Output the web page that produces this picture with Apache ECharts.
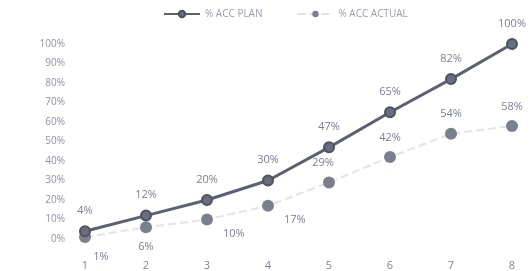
<!DOCTYPE html>
<html>
<head>
<meta charset="utf-8">
<script src="https://cdn.jsdelivr.net/npm/echarts@6/dist/echarts.min.js"></script>
<style>
  html, body { margin: 0; padding: 0; background: #fff; }
  #chart { width: 529px; height: 271px; }
</style>
</head>
<body>
<div id="chart"></div>
<script>
let categories = ["1", "2", "3", "4", "5", "6", "7", "8"];
let accPlan = [4, 12, 20, 30, 47, 65, 82, 100];
let accActual = [1, 6, 10, 17, 29, 42, 54, 58];
// where each actual label sits relative to its point
let actualLabelPos = ["bottom", "bottom", "right", "right", "top", "top", "top", "top"];

let chart = echarts.init(document.getElementById("chart"));

let actualData = accActual.map((v, i) => {
    let pos = actualLabelPos[i];
    let label = { position: pos };
    if (pos === "right") label.offset = [2, 14];
    if (pos === "bottom" && i === 0) label.offset = [16, 0];
    if (i === 4) label.offset = [-6, 0];
    return { value: v, label: label };
});

chart.setOption({
    animation: false,
    textStyle: { fontFamily: "Open Sans" },
    legend: {
        top: 4,
        left: 158,
        itemGap: 34,
        itemWidth: 36,
        itemHeight: 8,
        textStyle: { color: "#9a9cac", fontSize: 10 },
        data: ["% ACC PLAN", "% ACC ACTUAL"]
    },
    grid: { left: 85, right: 17, top: 44, bottom: 32 },
    xAxis: {
        type: "category",
        data: categories,
        boundaryGap: false,
        axisLine: { show: false },
        axisTick: { show: false },
        axisLabel: { color: "#7e8298", fontSize: 11, margin: 21 }
    },
    yAxis: {
        type: "value",
        min: 0,
        max: 100,
        interval: 10,
        splitLine: { show: false },
        axisLine: { show: false },
        axisTick: { show: false },
        axisLabel: { color: "#8c90ac", fontSize: 10, margin: 20, formatter: "{value}%" }
    },
    series: [
        {
            name: "% ACC PLAN",
            type: "line",
            data: accPlan,
            symbol: "circle",
            symbolSize: 10,
            lineStyle: { color: "#5c6070", width: 3 },
            itemStyle: { color: "#6a6e7c", borderColor: "#4e5262", borderWidth: 2 },
            label: {
                show: true,
                position: "top",
                distance: 9,
                color: "#7a7e98",
                fontSize: 11,
                formatter: "{c}%"
            },
            z: 3
        },
        {
            name: "% ACC ACTUAL",
            type: "line",
            data: actualData,
            symbol: "circle",
            symbolSize: 12,
            lineStyle: { color: "#e2e2f0", width: 2, type: "dashed" },
            itemStyle: { color: "#7c808e" },
            label: {
                show: true,
                distance: 8,
                color: "#7a7e98",
                fontSize: 11,
                formatter: "{c}%"
            },
            z: 2
        }
    ]
});
</script>
</body>
</html>
